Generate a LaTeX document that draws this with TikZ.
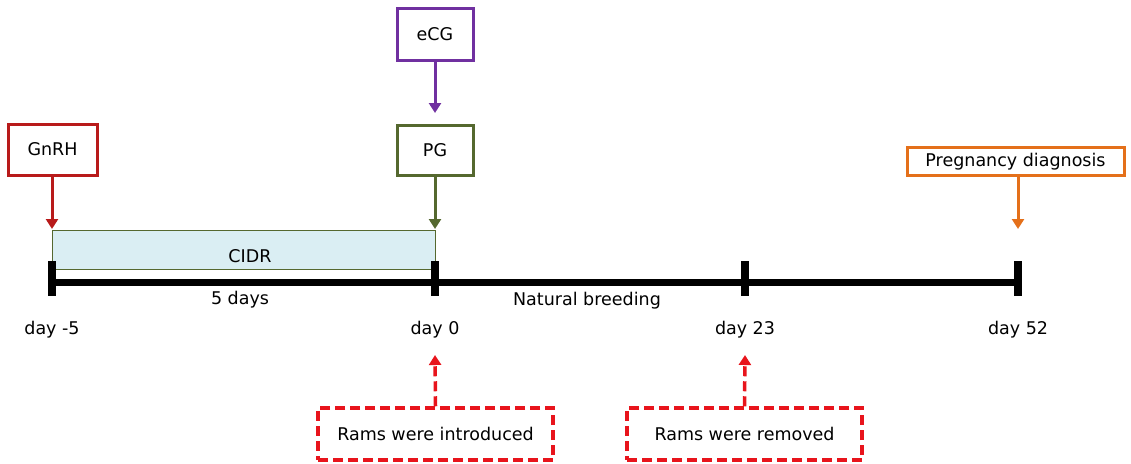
\documentclass[tikz,border=0pt]{standalone}
\usepackage{fontspec}
\setmainfont{DejaVu Sans}
\usetikzlibrary{arrows.meta}
\definecolor{cRed}{HTML}{B81A1A}
\definecolor{cPurple}{HTML}{7030A0}
\definecolor{cOlive}{HTML}{55682F}
\definecolor{cOrange}{HTML}{E4701A}
\definecolor{cDash}{HTML}{E8141C}
\definecolor{cFill}{HTML}{DAEEF3}
\tikzset{
  x=1pt, y=1pt,
  lbl/.style={font=\fontsize{17.5}{20}\selectfont, inner sep=0pt},
  hbox/.style={draw=#1, line width=3pt, fill=white, font=\fontsize{17.5}{20}\selectfont, inner sep=0pt},
  harrow/.style={draw=#1, line width=3pt, -{Triangle[length=10pt,width=12pt]}},
  tick/.style={line width=7.5pt},
  dbox/.style={draw=cDash, line width=3.5pt, dash pattern=on 10pt off 5pt, font=\fontsize{17.5}{20}\selectfont, inner sep=0pt, minimum width=235pt, minimum height=52pt},
  darrow/.style={draw=cDash, line width=3.5pt, dash pattern=on 10pt off 5pt, -{Triangle[length=10pt,width=12pt]}},
}
\begin{document}
\begin{tikzpicture}
\useasboundingbox (0,0) rectangle (1131,-463);
% boxes
\node[hbox=cRed, minimum width=89pt, minimum height=51pt] (gnrh) at (52.5,-149.5) {GnRH};
\node[hbox=cPurple, minimum width=76pt, minimum height=52pt] (ecg) at (435,-34) {eCG};
\node[hbox=cOlive, minimum width=76pt, minimum height=50pt] (pg) at (435,-150) {PG};
\node[hbox=cOrange, minimum width=217pt, minimum height=28pt] (preg) at (1015.5,-161.5) {Pregnancy diagnosis};
% CIDR bar
\node[draw=cOlive, line width=1pt, fill=cFill, minimum width=383pt, minimum height=39pt, inner sep=0pt, anchor=north west] (cidr) at (52,-230) {};
\node[lbl] (cidrt) at (250,-256) {CIDR};
% timeline coordinates
\coordinate (t0) at (52,-282);
\coordinate (t1) at (435,-282);
\coordinate (t2) at (745,-282);
\coordinate (t3) at (1018,-282);
\draw[line width=7pt] (t0) -- (t3);
\foreach \c in {t0,t1,t2,t3}{
  \draw[tick] ([yshift=21pt]\c) -- ([yshift=-14pt]\c);
}
% arrows from hormone boxes
\coordinate (a0) at (52,-229);
\coordinate (a1) at (435,-229);
\coordinate (a3) at (1018,-229);
\coordinate (pgin) at (435,-113);
\draw[harrow=cRed] (gnrh.south -| a0) -- (a0);
\draw[harrow=cPurple] (ecg.south) -- (pgin);
\draw[harrow=cOlive] (pg.south) -- (a1);
\draw[harrow=cOrange] (preg.south -| a3) -- (a3);
% labels
\node[lbl] (five) at (240,-300) {5 days};
\node[lbl] (nat) at (587,-301) {Natural breeding};
\node[lbl] (d0) at (52,-330) {day -5};
\node[lbl] (d1) at (435,-330) {day 0};
\node[lbl] (d2) at (745,-330) {day 23};
\node[lbl] (d3) at (1018,-330) {day 52};
% dashed boxes
\node[dbox] (intro) at (435.5,-434) {Rams were introduced};
\node[dbox] (rem) at (744.5,-434) {Rams were removed};
\coordinate (u1) at (435,-355);
\coordinate (u2) at (745,-355);
\draw[darrow] (intro.north) -- (u1);
\draw[darrow] (rem.north) -- (u2);
\end{tikzpicture}
\end{document}
